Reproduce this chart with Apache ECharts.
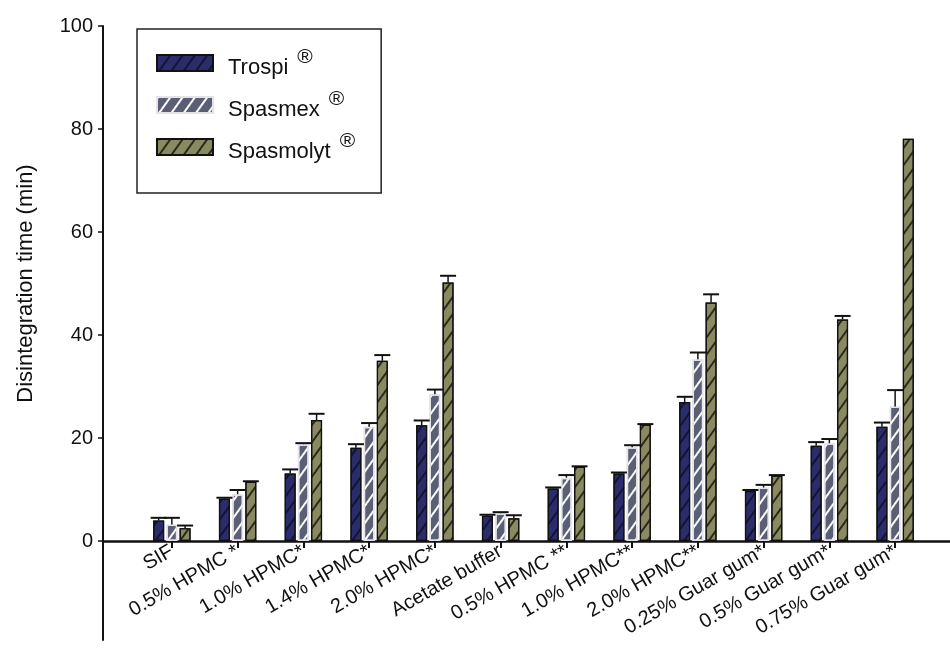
<!DOCTYPE html>
<html>
<head>
<meta charset="utf-8">
<script src="https://cdn.jsdelivr.net/npm/echarts@6/dist/echarts.min.js"></script>
<style>html,body{margin:0;padding:0;background:#fff;}#c{width:950px;height:649px;}</style>
</head>
<body>
<div id="c"></div>
<script>
const categories = ['SIF', '0.5% HPMC *', '1.0% HPMC*', '1.4% HPMC*', '2.0% HPMC*', 'Acetate buffer', '0.5% HPMC **', '1.0% HPMC**', '2.0% HPMC**', '0.25% Guar gum*', '0.5% Guar gum*', '0.75% Guar gum*'];
const seriesNames = ['Trospi', 'Spasmex', 'Spasmolyt'];
const trospi = [4.0, 8.2, 13.1, 18.1, 22.5, 4.9, 10.2, 13.1, 27.0, 9.7, 18.5, 22.2];
const trospiErr = [0.5, 0.2, 0.8, 0.7, 0.9, 0.2, 0.2, 0.2, 1.0, 0.2, 0.7, 0.8];
const spasmex = [3.2, 9.1, 18.8, 22.2, 28.5, 5.4, 12.3, 18.2, 35.3, 10.4, 19.0, 26.1];
const spasmexErr = [1.3, 0.8, 0.2, 0.7, 0.9, 0.2, 0.5, 0.4, 1.3, 0.5, 0.8, 3.2];
const spasmolyt = [2.5, 11.5, 23.5, 35.0, 50.2, 4.4, 14.4, 22.6, 46.3, 12.7, 43.0, 78.1];
const spasmolytErr = [0.5, 0.1, 1.2, 1.1, 1.3, 0.6, 0.1, 0.1, 1.6, 0.1, 0.7, 0];
const yTicks = { min: 0, max: 100, interval: 20 };

const FONT = "'Liberation Sans', Arial, sans-serif";
const BAR_W = 11;
const GAP_RATIO = 0.2;
const STEP = BAR_W * (1 + GAP_RATIO);

const values = [trospi, spasmex, spasmolyt];
const errors = [trospiErr, spasmexErr, spasmolytErr];
const styles = [
  { color: '#2b2d6b', borderColor: '#111', borderWidth: 1.2,
    decal: { symbol: 'rect', color: '#121335', dashArrayX: [1, 0], dashArrayY: [1.5, 8], rotation: -0.95 } },
  { color: '#5b5f75', borderColor: '#e4e4e8', borderWidth: 1.5,
    decal: { symbol: 'rect', color: '#ffffff', dashArrayX: [1, 0], dashArrayY: [1.8, 8], rotation: -0.95 } },
  { color: '#8a8a62', borderColor: '#111', borderWidth: 1.2,
    decal: { symbol: 'rect', color: '#2a2a1a', dashArrayX: [1, 0], dashArrayY: [1.5, 8], rotation: -0.95 } }
];

const series = [];
seriesNames.forEach((name, s) => {
  series.push({
    name: name, type: 'bar', xAxisIndex: 0, yAxisIndex: 0,
    data: values[s], barWidth: BAR_W, barGap: (GAP_RATIO * 100) + '%',
    itemStyle: styles[s], emphasis: { disabled: true }, z: 2
  });
});
seriesNames.forEach((name, s) => {
  const off = (s - 1) * STEP;
  series.push({
    type: 'custom', xAxisIndex: 0, yAxisIndex: 0, z: 4, silent: true,
    data: values[s].map((v, i) => [i, v, errors[s][i]]),
    encode: { x: 0, y: 1 },
    renderItem: function (params, api) {
      const i = api.value(0), v = api.value(1), e = api.value(2);
      if (!e) return null;
      const b = api.coord([i, v]);
      const t = api.coord([i, v + e]);
      const x = b[0] + off;
      return {
        type: 'group',
        children: [
          { type: 'line', shape: { x1: x, y1: b[1], x2: x, y2: t[1] }, style: { stroke: '#111', lineWidth: 1.5 } },
          { type: 'line', shape: { x1: x - 8, y1: t[1], x2: x + 8, y2: t[1] }, style: { stroke: '#111', lineWidth: 2 } }
        ]
      };
    }
  });
});

const chart = echarts.init(document.getElementById('c'), null, { renderer: 'canvas' });
chart.setOption({
  animation: false,
  backgroundColor: '#fff',
  textStyle: { fontFamily: FONT },
  grid: [
    { left: 139, right: 22, top: 26, bottom: 108 },
    { left: 103, right: 0, top: 26, bottom: 9 }
  ],
  legend: {
    data: seriesNames.map(n => ({ name: n, icon: 'rect' })),
    orient: 'vertical',
    left: 137, top: 29,
    padding: [18, 26, 30, 19],
    itemWidth: 56, itemHeight: 16, itemGap: 10,
    borderColor: '#222', borderWidth: 1.5,
    selectedMode: false,
    formatter: n => '{n|' + n + '}{r|®}',
    textStyle: {
      fontFamily: FONT, color: '#111',
      rich: {
        n: { fontSize: 22, fontFamily: FONT, color: '#111', padding: [10, 0, 0, 10] },
        r: { fontSize: 21, fontFamily: FONT, color: '#111', verticalAlign: 'top', padding: [0, 0, 0, 9] }
      }
    }
  },
  xAxis: [
    {
      type: 'category', gridIndex: 0, data: categories,
      axisLine: { show: false },
      axisTick: { show: true, alignWithLabel: true, length: 7, lineStyle: { color: '#111', width: 2 } },
      axisLabel: { interval: 0, rotate: 30, fontSize: 20, color: '#111', fontFamily: FONT, margin: 9 },
      splitLine: { show: false }
    },
    {
      type: 'value', gridIndex: 1, min: 0, max: 1,
      axisLine: { show: true, onZero: true, lineStyle: { color: '#111', width: 2.5 } },
      axisTick: { show: false }, axisLabel: { show: false }, splitLine: { show: false }
    }
  ],
  yAxis: [
    {
      type: 'value', gridIndex: 0, min: yTicks.min, max: yTicks.max, interval: yTicks.interval,
      offset: 36,
      name: 'Disintegration time (min)', nameLocation: 'middle', nameGap: 66,
      nameTextStyle: { fontSize: 22, color: '#111', fontFamily: FONT },
      axisLine: { show: false },
      axisTick: { show: true, length: 5, lineStyle: { color: '#111', width: 1.5 } },
      axisLabel: { fontSize: 20, color: '#111', fontFamily: FONT, margin: 10 },
      splitLine: { show: false }
    },
    {
      type: 'value', gridIndex: 1, min: -19.22, max: 100,
      axisLine: { show: true, onZero: false, lineStyle: { color: '#111', width: 2 } },
      axisTick: { show: false }, axisLabel: { show: false }, splitLine: { show: false }
    }
  ],
  series: series
});
</script>
</body>
</html>
